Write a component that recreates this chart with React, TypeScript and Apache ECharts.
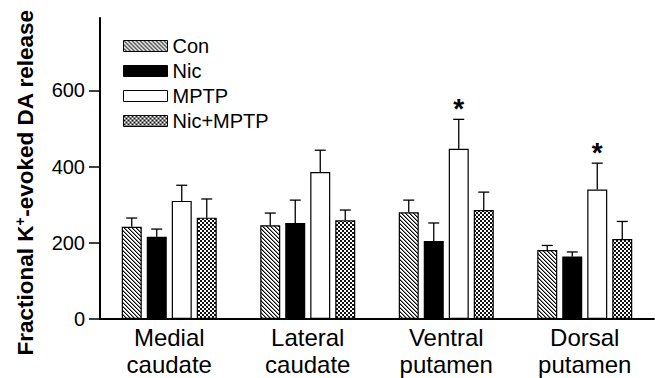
import React, { useEffect, useRef } from 'react';
import * as echarts from 'echarts';

const categories = ['Medial\ncaudate', 'Lateral\ncaudate', 'Ventral\nputamen', 'Dorsal\nputamen'];
const seriesNames = ['Con', 'Nic', 'MPTP', 'Nic+MPTP'];
const conValues = [242, 246, 280, 181];
const conErr = [23, 32, 32, 12];
const nicValues = [216, 252, 205, 164];
const nicErr = [20, 60, 47, 12];
const mptpValues = [310, 386, 447, 340];
const mptpErr = [41, 57, 77, 69];
const nicMptpValues = [266, 259, 286, 210];
const nicMptpErr = [49, 27, 47, 46];
const mptpSignificant = [0, 0, 1, 1];
const noSignificance = [0, 0, 0, 0];
const yTicks = [0, 200, 400, 600];

const FONT = 'Arial, "Liberation Sans", Helvetica, sans-serif';

function makeHatch(): HTMLCanvasElement {
  const c = document.createElement('canvas');
  c.width = 4;
  c.height = 4;
  const ctx = c.getContext('2d')!;
  ctx.fillStyle = '#fff';
  ctx.fillRect(0, 0, 4, 4);
  for (let i = 0; i < 4; i++) {
    ctx.fillStyle = '#000';
    ctx.fillRect(i, i, 1, 1);
    ctx.fillStyle = '#888';
    ctx.fillRect((i + 1) % 4, i, 1, 1);
  }
  return c;
}

function makeChecker(): HTMLCanvasElement {
  const c = document.createElement('canvas');
  c.width = 4;
  c.height = 4;
  const ctx = c.getContext('2d')!;
  ctx.fillStyle = '#fff';
  ctx.fillRect(0, 0, 4, 4);
  ctx.fillStyle = '#111';
  ctx.fillRect(0, 0, 2, 2);
  ctx.fillRect(2, 2, 2, 2);
  return c;
}

export default function App() {
  const ref = useRef<HTMLDivElement>(null);

  useEffect(() => {
    if (!ref.current) return;
    const chart = echarts.init(ref.current, null, { renderer: 'svg' });

    const hatch = { image: makeHatch(), repeat: 'repeat' };
    const checker = { image: makeChecker(), repeat: 'repeat' };
    const fills: any[] = [hatch, '#000', '#fff', checker];
    const values = [conValues, nicValues, mptpValues, nicMptpValues];
    const errs = [conErr, nicErr, mptpErr, nicMptpErr];
    const sigs = [noSignificance, noSignificance, mptpSignificant, noSignificance];
    const step = 25;

    const barSeries = seriesNames.map((name, k) => ({
      name,
      type: 'bar',
      data: values[k],
      barWidth: 20,
      barGap: '25%',
      itemStyle: { color: fills[k], borderColor: '#000', borderWidth: 1.2 },
      z: 2,
    }));

    const errSeries = seriesNames.map((name, k) => ({
      name: name + ' err',
      type: 'custom',
      z: 3,
      clip: false,
      silent: true,
      encode: { x: 0, y: 1 },
      data: values[k].map((v, i) => [i, v, errs[k][i], sigs[k][i]]),
      renderItem: (params: any, api: any) => {
        const ci = api.value(0);
        const v = api.value(1);
        const e = api.value(2);
        const sig = api.value(3);
        const base = api.coord([ci, v]);
        const top = api.coord([ci, v + e]);
        const x = base[0] + (k - 1.5) * step;
        const children: any[] = [
          { type: 'line', shape: { x1: x, y1: base[1], x2: x, y2: top[1] }, style: { stroke: '#000', lineWidth: 1.3 } },
          { type: 'line', shape: { x1: x - 5.5, y1: top[1], x2: x + 5.5, y2: top[1] }, style: { stroke: '#000', lineWidth: 1.3 } },
        ];
        if (sig) {
          children.push({
            type: 'text',
            x,
            y: top[1] - 11,
            style: {
              text: '*',
              font: 'bold 28px ' + FONT,
              fill: '#000',
              textAlign: 'center',
              textVerticalAlign: 'middle',
            },
          });
        }
        return { type: 'group', children };
      },
    }));

    chart.setOption({
      animation: false,
      backgroundColor: '#fff',
      grid: { left: 100, right: 1, top: 18, bottom: 58, containLabel: false },
      legend: {
        data: seriesNames,
        orient: 'vertical',
        left: 123,
        top: 36,
        padding: 0,
        itemWidth: 44,
        itemHeight: 11,
        itemGap: 5,
        icon: 'rect',
        itemStyle: { borderColor: '#000', borderWidth: 1 },
        textStyle: { fontFamily: FONT, fontSize: 20, lineHeight: 20, color: '#000', padding: [0, 0, 0, 0] },
        selectedMode: false,
      },
      xAxis: {
        type: 'category',
        data: categories,
        axisLine: { lineStyle: { color: '#000', width: 2 } },
        axisTick: { show: false },
        axisLabel: { fontFamily: FONT, fontSize: 24, lineHeight: 27, color: '#000', margin: 5 },
      },
      yAxis: {
        type: 'value',
        min: 0,
        max: 790,
        name: 'Fractional K{sup|+}-evoked DA release',
        nameLocation: 'middle',
        nameRotate: 90,
        nameGap: 63,
        nameTextStyle: {
          fontFamily: FONT,
          fontSize: 22.5,
          fontWeight: 'bold',
          color: '#000',
          padding: [0, 28, 0, 0],
          rich: {
            sup: { fontFamily: FONT, fontSize: 14, fontWeight: 'bold', color: '#000', verticalAlign: 'top', padding: [0, 0, 10, 0] },
          },
        },
        axisLine: { show: true, lineStyle: { color: '#000', width: 2 } },
        axisTick: { show: true, length: 11, customValues: yTicks, lineStyle: { color: '#000', width: 1.5 } },
        axisLabel: { customValues: yTicks, fontFamily: FONT, fontSize: 20, color: '#000', margin: 15 },
        splitLine: { show: false },
      },
      series: [...barSeries, ...errSeries],
    });

    return () => chart.dispose();
  }, []);

  return <div ref={ref} style={{ width: 655, height: 378, position: 'absolute', left: 0, top: 0 }} />;
}
